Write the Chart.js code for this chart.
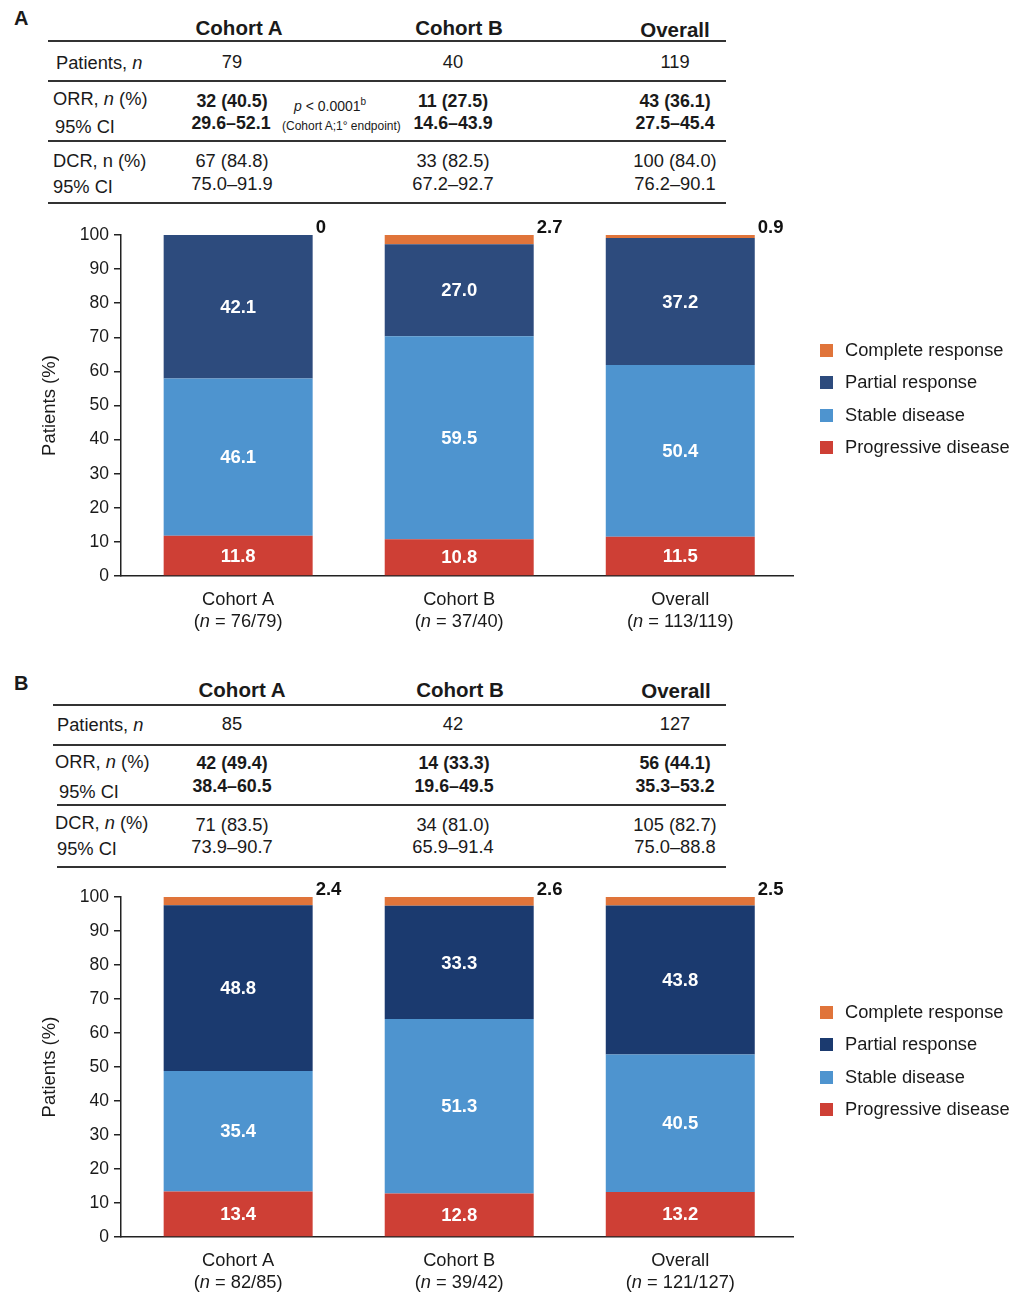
<!DOCTYPE html>
<html>
<head>
<meta charset="utf-8">
<script src="https://cdn.jsdelivr.net/npm/chart.js@4"></script>
<style>
  body { margin:0; background:#fff; font-family:"Liberation Sans", Arial, sans-serif; color:#1a1a1a; }
  #page { position:relative; width:1026px; height:1300px; overflow:hidden; }
  .c { position:absolute; white-space:nowrap; font-size:18.3px; line-height:20px; transform:translate(-50%,-50%); }
  .l { position:absolute; white-space:nowrap; font-size:18.3px; line-height:20px; transform:translateY(-50%); }
  .h { font-weight:bold; font-size:20.5px; }
  .b { font-weight:bold; font-size:17.8px; }
  .hr { position:absolute; height:2px; background:#333; }
  .sq { position:absolute; width:13px; height:13px; }
  canvas { position:absolute; left:0; }
</style>
</head>
<body>
<div id="page">

  <!-- panel A table -->
  <div class="l h" style="left:14px;top:18px;font-size:20px">A</div>
  <div class="c h" style="left:239px;top:28px">Cohort A</div>
  <div class="c h" style="left:459px;top:28px">Cohort B</div>
  <div class="c h" style="left:675px;top:30px">Overall</div>
  <div class="hr" style="left:48px;width:678px;top:40px"></div>
  <div class="l" style="left:56px;top:63px">Patients, <i>n</i></div>
  <div class="c" style="left:232px;top:62px">79</div>
  <div class="c" style="left:453px;top:62px">40</div>
  <div class="c" style="left:675px;top:62px">119</div>
  <div class="hr" style="left:48px;width:678px;top:80px"></div>
  <div class="l" style="left:53px;top:99px">ORR, <i>n</i> (%)</div>
  <div class="l" style="left:55px;top:127px">95% CI</div>
  <div class="c b" style="left:232px;top:101px">32 (40.5)</div>
  <div class="c b" style="left:231px;top:123px">29.6–52.1</div>
  <div class="l" style="left:294px;top:104px;font-size:14px"><i>p</i> &lt; 0.0001<sup style="font-size:10px">b</sup></div>
  <div class="l" style="left:282px;top:126px;font-size:12px">(Cohort A;1° endpoint)</div>
  <div class="c b" style="left:453px;top:101px">11 (27.5)</div>
  <div class="c b" style="left:453px;top:123px">14.6–43.9</div>
  <div class="c b" style="left:675px;top:101px">43 (36.1)</div>
  <div class="c b" style="left:675px;top:123px">27.5–45.4</div>
  <div class="hr" style="left:48px;width:678px;top:140px"></div>
  <div class="l" style="left:53px;top:161px">DCR, n (%)</div>
  <div class="l" style="left:53px;top:187px">95% CI</div>
  <div class="c" style="left:232px;top:161px">67 (84.8)</div>
  <div class="c" style="left:232px;top:184px">75.0–91.9</div>
  <div class="c" style="left:453px;top:161px">33 (82.5)</div>
  <div class="c" style="left:453px;top:184px">67.2–92.7</div>
  <div class="c" style="left:675px;top:161px">100 (84.0)</div>
  <div class="c" style="left:675px;top:184px">76.2–90.1</div>
  <div class="hr" style="left:48px;width:678px;top:202px"></div>

  <canvas id="chartA" width="1026" height="450" style="top:200px"></canvas>

  <!-- panel B table -->
  <div class="l h" style="left:14px;top:683px;font-size:20px">B</div>
  <div class="c h" style="left:242px;top:690px">Cohort A</div>
  <div class="c h" style="left:460px;top:690px">Cohort B</div>
  <div class="c h" style="left:676px;top:691px">Overall</div>
  <div class="hr" style="left:53px;width:673px;top:704px"></div>
  <div class="l" style="left:57px;top:725px">Patients, <i>n</i></div>
  <div class="c" style="left:232px;top:724px">85</div>
  <div class="c" style="left:453px;top:724px">42</div>
  <div class="c" style="left:675px;top:724px">127</div>
  <div class="hr" style="left:53px;width:673px;top:744px"></div>
  <div class="l" style="left:55px;top:762px">ORR, <i>n</i> (%)</div>
  <div class="l" style="left:59px;top:792px">95% CI</div>
  <div class="c b" style="left:232px;top:763px">42 (49.4)</div>
  <div class="c b" style="left:232px;top:786px">38.4–60.5</div>
  <div class="c b" style="left:454px;top:763px">14 (33.3)</div>
  <div class="c b" style="left:454px;top:786px">19.6–49.5</div>
  <div class="c b" style="left:675px;top:763px">56 (44.1)</div>
  <div class="c b" style="left:675px;top:786px">35.3–53.2</div>
  <div class="hr" style="left:57px;width:669px;top:804px"></div>
  <div class="l" style="left:55px;top:823px">DCR, <i>n</i> (%)</div>
  <div class="l" style="left:57px;top:849px">95% CI</div>
  <div class="c" style="left:232px;top:825px">71 (83.5)</div>
  <div class="c" style="left:232px;top:847px">73.9–90.7</div>
  <div class="c" style="left:453px;top:825px">34 (81.0)</div>
  <div class="c" style="left:453px;top:847px">65.9–91.4</div>
  <div class="c" style="left:675px;top:825px">105 (82.7)</div>
  <div class="c" style="left:675px;top:847px">75.0–88.8</div>
  <div class="hr" style="left:57px;width:669px;top:866px"></div>

  <canvas id="chartB" width="1026" height="440" style="top:860px"></canvas>

  <div id="legendA"></div>
  <div id="legendB"></div>
</div>

<script>
// data (percent of patients)
const categories = ['Cohort A', 'Cohort B', 'Overall'];
const seriesNames = ['Progressive disease', 'Stable disease', 'Partial response', 'Complete response'];

const nA = ['76/79', '37/40', '113/119'];
const pdA = [11.8, 10.8, 11.5];
const sdA = [46.1, 59.5, 50.4];
const prA = [42.1, 27.0, 37.2];
const crA = [0, 2.7, 0.9];

const nB = ['82/85', '39/42', '121/127'];
const pdB = [13.4, 12.8, 13.2];
const sdB = [35.4, 51.3, 40.5];
const prB = [48.8, 33.3, 43.8];
const crB = [2.4, 2.6, 2.5];

const yMin = 0, yMax = 100, yStep = 10;

const FONT = '"Liberation Sans", Arial, sans-serif';
const INK = '#1a1a1a';
const colPD = '#ce3f35';
const colSD = '#4e94cf';
const colCR = '#e0743a';

// white numbers inside segments, black number right of the top (CR) segment
const segLabels = {
  id: 'segLabels',
  afterDatasetsDraw(chart) {
    const ctx = chart.ctx;
    ctx.save();
    ctx.font = 'bold 18.5px ' + FONT;
    ctx.textBaseline = 'middle';
    chart.data.datasets.forEach((ds, i) => {
      chart.getDatasetMeta(i).data.forEach((bar, j) => {
        const v = ds.data[j];
        const txt = v === 0 ? '0' : v.toFixed(1);
        if (ds.outside) {
          ctx.fillStyle = '#111';
          ctx.textAlign = 'left';
          ctx.fillText(txt, bar.x + bar.width / 2 + 3, bar.y - 7);
        } else {
          ctx.fillStyle = '#fff';
          ctx.textAlign = 'center';
          ctx.fillText(txt, bar.x, (bar.y + bar.base) / 2 + 1);
        }
      });
    });
    ctx.restore();
  }
};

// two-line category labels, "n" in italics
const catLabels = {
  id: 'catLabels',
  afterDraw(chart, args, opts) {
    const ctx = chart.ctx;
    const xs = chart.scales.x;
    const bottom = chart.chartArea.bottom;
    const fn = '18.3px ' + FONT, fi = 'italic 18.3px ' + FONT;
    ctx.save();
    ctx.fillStyle = INK;
    ctx.textBaseline = 'middle';
    categories.forEach((c, j) => {
      const x = xs.getPixelForValue(j);
      ctx.font = fn;
      ctx.textAlign = 'center';
      ctx.fillText(c, x, bottom + 24);
      const a = '(', n = 'n', b = ' = ' + opts.n[j] + ')';
      ctx.font = fn; const wa = ctx.measureText(a).width, wb = ctx.measureText(b).width;
      ctx.font = fi; const wn = ctx.measureText(n).width;
      let x0 = x - (wa + wn + wb) / 2;
      ctx.textAlign = 'left';
      ctx.font = fn; ctx.fillText(a, x0, bottom + 46);
      ctx.font = fi; ctx.fillText(n, x0 + wa, bottom + 46);
      ctx.font = fn; ctx.fillText(b, x0 + wa + wn, bottom + 46);
    });
    ctx.restore();
  }
};

function makeChart(id, pd, sd, pr, cr, n, prColor, padTop, padBottom) {
  return new Chart(document.getElementById(id), {
    type: 'bar',
    data: {
      labels: categories,
      datasets: [
        { label: seriesNames[0], data: pd, backgroundColor: colPD },
        { label: seriesNames[1], data: sd, backgroundColor: colSD },
        { label: seriesNames[2], data: pr, backgroundColor: prColor },
        { label: seriesNames[3], data: cr, backgroundColor: colCR, outside: true }
      ]
    },
    options: {
      responsive: false,
      animation: false,
      layout: { padding: { left: 0, right: 233, top: padTop, bottom: padBottom } },
      datasets: { bar: { barPercentage: 0.674, categoryPercentage: 1, borderWidth: 0 } },
      plugins: { legend: { display: false }, tooltip: { enabled: false }, catLabels: { n: n } },
      scales: {
        x: {
          stacked: true,
          ticks: { display: false },
          grid: { display: false, drawTicks: false },
          border: { display: true, color: '#222', width: 1.5 },
          // bars sit a little right of an even split in the original
          afterBuildTicks: s => { s._startValue = -0.53; s._valueRange = 3.04; },
          afterFit: s => { s.height = 0; }
        },
        y: {
          stacked: true,
          min: yMin, max: yMax,
          ticks: { stepSize: yStep, color: INK, padding: 5, font: { size: 17.5, family: FONT } },
          grid: { drawOnChartArea: false, drawTicks: true, tickLength: 7, color: '#222', lineWidth: 1.5 },
          border: { display: true, color: '#222', width: 1.5 },
          title: { display: true, text: 'Patients (%)', color: INK, font: { size: 18.5, family: FONT }, padding: { top: 39, bottom: 0 } },
          afterFit: s => { s.width = 121; }
        }
      }
    },
    plugins: [segLabels, catLabels]
  });
}

makeChart('chartA', pdA, sdA, prA, crA, nA, '#2d4b7d', 35, 74);
makeChart('chartB', pdB, sdB, prB, crB, nB, '#1b3a6f', 37, 63);

// legends, top entry first
function makeLegend(id, top, prColor) {
  const box = document.getElementById(id);
  const cols = [colCR, prColor, colSD, colPD];
  const names = [seriesNames[3], seriesNames[2], seriesNames[1], seriesNames[0]];
  names.forEach((nm, i) => {
    const y = top + i * 32.3;
    const sq = document.createElement('div');
    sq.className = 'sq';
    sq.style.left = '820px';
    sq.style.top = (y - 6) + 'px';
    sq.style.background = cols[i];
    box.appendChild(sq);
    const t = document.createElement('div');
    t.className = 'l';
    t.style.left = '845px';
    t.style.top = y + 'px';
    t.textContent = nm;
    box.appendChild(t);
  });
}
makeLegend('legendA', 350, '#2d4b7d');
makeLegend('legendB', 1012, '#1b3a6f');
</script>
</body>
</html>
